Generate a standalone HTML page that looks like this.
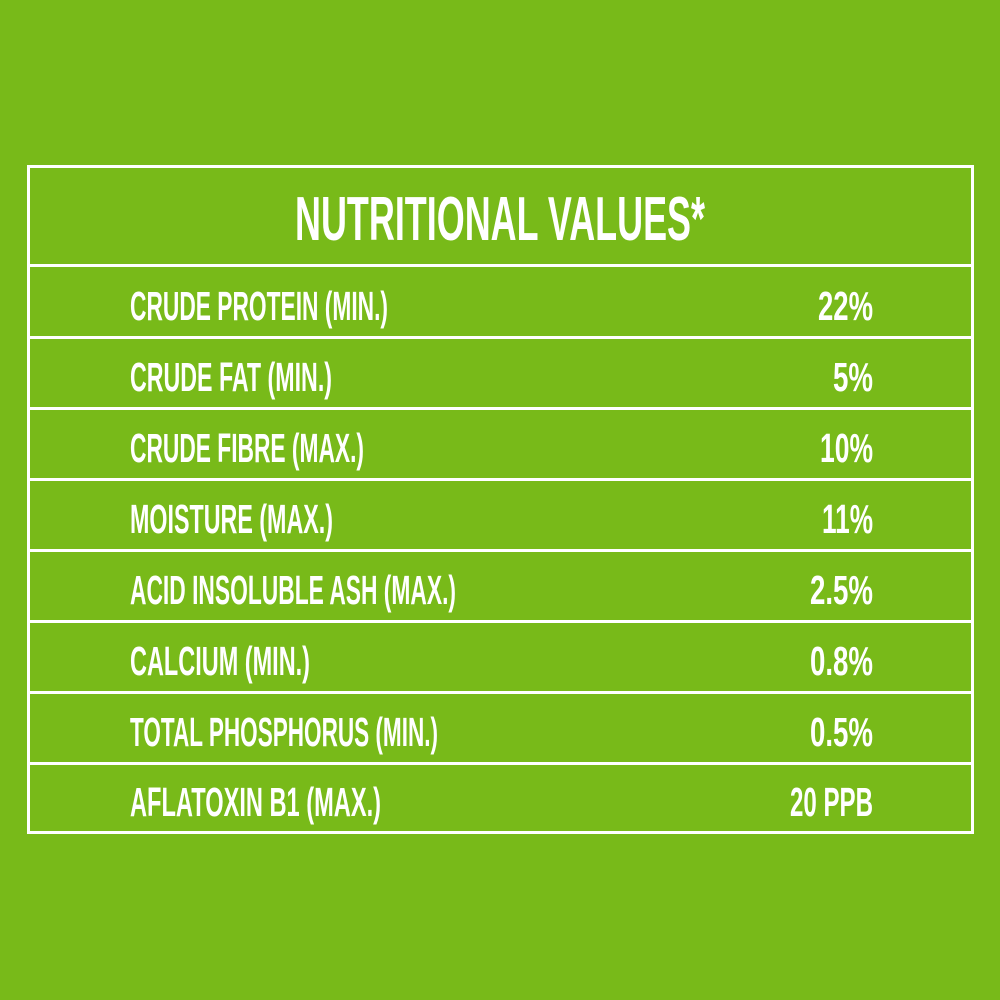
<!DOCTYPE html>
<html><head><style>html,body{margin:0;padding:0;background:#78BA19;}svg{display:block}</style></head>
<body>
<svg width="1000" height="1000" xmlns="http://www.w3.org/2000/svg">
<rect width="1000" height="1000" fill="#78BA19"/>
<g stroke="#fff" stroke-width="3" fill="none">
<rect x="28.5" y="166.5" width="944" height="666"/>
<line x1="28" x2="973" y1="265.5" y2="265.5"/>
<line x1="28" x2="973" y1="337.5" y2="337.5"/>
<line x1="28" x2="973" y1="408.5" y2="408.5"/>
<line x1="28" x2="973" y1="479.5" y2="479.5"/>
<line x1="28" x2="973" y1="550.5" y2="550.5"/>
<line x1="28" x2="973" y1="621.5" y2="621.5"/>
<line x1="28" x2="973" y1="692.5" y2="692.5"/>
<line x1="28" x2="973" y1="763.5" y2="763.5"/>
</g>
<g fill="#fff" font-family="'Liberation Sans Narrow','Liberation Sans',sans-serif" font-weight="bold" lengthAdjust="spacingAndGlyphs">
<text x="295" y="240" font-size="62" textLength="410" lengthAdjust="spacingAndGlyphs">NUTRITIONAL VALUES*</text>
<g font-size="41">
<text x="130" y="320" textLength="258" lengthAdjust="spacingAndGlyphs">CRUDE PROTEIN (MIN.)</text>
<text x="818" y="320" textLength="55" lengthAdjust="spacingAndGlyphs">22%</text>
<text x="130" y="391" textLength="202" lengthAdjust="spacingAndGlyphs">CRUDE FAT (MIN.)</text>
<text x="833" y="391" textLength="40" lengthAdjust="spacingAndGlyphs">5%</text>
<text x="130" y="462" textLength="234" lengthAdjust="spacingAndGlyphs">CRUDE FIBRE (MAX.)</text>
<text x="820" y="462" textLength="53" lengthAdjust="spacingAndGlyphs">10%</text>
<text x="130" y="533" textLength="203" lengthAdjust="spacingAndGlyphs">MOISTURE (MAX.)</text>
<text x="822" y="533" textLength="51" lengthAdjust="spacingAndGlyphs">11%</text>
<text x="130" y="604" textLength="326" lengthAdjust="spacingAndGlyphs">ACID INSOLUBLE ASH (MAX.)</text>
<text x="810" y="604" textLength="63" lengthAdjust="spacingAndGlyphs">2.5%</text>
<text x="130" y="675" textLength="180" lengthAdjust="spacingAndGlyphs">CALCIUM (MIN.)</text>
<text x="810" y="675" textLength="63" lengthAdjust="spacingAndGlyphs">0.8%</text>
<text x="130" y="746" textLength="308" lengthAdjust="spacingAndGlyphs">TOTAL PHOSPHORUS (MIN.)</text>
<text x="810" y="746" textLength="63" lengthAdjust="spacingAndGlyphs">0.5%</text>
<text x="130" y="816" textLength="251" lengthAdjust="spacingAndGlyphs">AFLATOXIN B1 (MAX.)</text>
<text x="790" y="816" textLength="83" lengthAdjust="spacingAndGlyphs">20 PPB</text>
</g>
</g>
</svg>
</body></html>
